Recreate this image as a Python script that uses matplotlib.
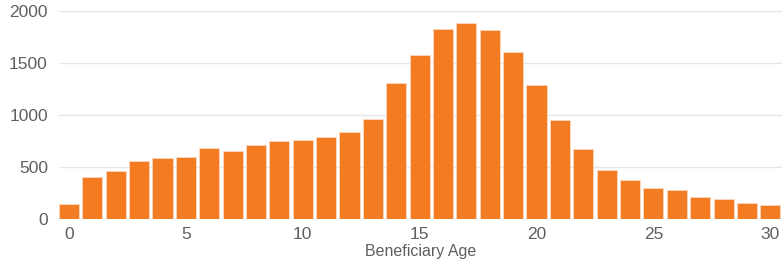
import matplotlib.pyplot as plt
import numpy as np

plt.rcParams["font.family"] = ["Liberation Sans", "DejaVu Sans"]

# Beneficiary counts by age
ages = np.arange(0, 31)
counts = [140, 404, 458, 554, 587, 596, 683, 651, 712, 747, 756,
          788, 833, 962, 1311, 1577, 1830, 1885, 1821, 1606, 1285,
          949, 670, 471, 375, 298, 279, 212, 192, 151, 138]
yticks = [0, 500, 1000, 1500, 2000]
xticks = [0, 5, 10, 15, 20, 25, 30]

fig = plt.figure(figsize=(7.82, 2.62), dpi=100)
ax = fig.add_axes([0.0754, 0.164, 0.9246, 0.794])

ax.bar(ages, counts, width=0.86, color="#F37B22", edgecolor="#FBD9C0", linewidth=0.6, zorder=2)

ax.set_xlim(-0.43, 30.5)
ax.set_ylim(0, 2000)
ax.set_yticks(yticks)
ax.set_xticks(xticks)
ax.grid(axis="y", color="#E6E6E6", linewidth=1, zorder=0)
ax.set_axisbelow(True)
for s in ax.spines.values():
    s.set_visible(False)
ax.tick_params(axis="both", length=0, labelsize=12.5, colors="#5f5f5f")
ax.tick_params(axis="y", pad=8)
ax.tick_params(axis="x", pad=6)
ax.set_xlabel("Beneficiary Age", fontsize=11.5, color="#5f5f5f", labelpad=1)

fig.savefig("out.png", dpi=100)
